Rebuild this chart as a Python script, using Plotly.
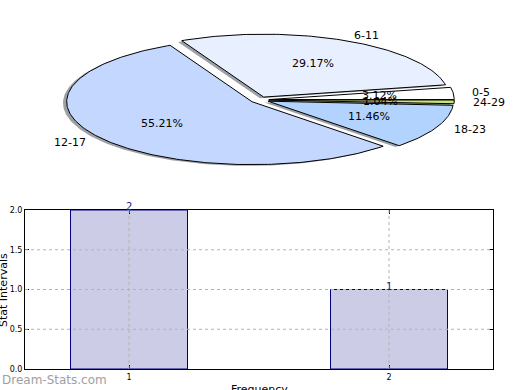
import numpy as np
import plotly.graph_objects as go

# ---------------- data ----------------
age_groups = ["0-5", "6-11", "12-17", "18-23", "24-29"]
age_shares = [3.12, 29.17, 55.21, 11.46, 1.04]

bar_categories = [1, 2]
bar_values = [2, 1]
y_tick_values = [0.0, 0.5, 1.0, 1.5, 2.0]
x_tick_values = [1, 2]

# ---------------- styles ----------------
pie_colors = ["#ffffff", "#e8f0ff", "#c4d8ff", "#b3d3ff", "#c8e678"]
pie_explode = [0.05, 0.05, 0.05, 0.05, 0.05]
FONT = "DejaVu Sans"
W, H = 520, 390

# pie geometry (pixel scale of unit radius, centre in px)
pie_cx, pie_cy = 259.6, 99.9
pie_rx, pie_ry = 185.4, 62.9
pie_h = 195.0

fig = go.Figure()

# ---------------- pie (elliptical, exploded, with shadow) ----------------
total = float(sum(age_shares))
wedges = []
start = 0.0
for i, v in enumerate(age_shares):
    t0 = start
    t1 = start + v / total * 360.0
    start = t1
    mid = np.radians((t0 + t1) / 2)
    ox = pie_explode[i] * np.cos(mid)
    oy = pie_explode[i] * np.sin(mid)
    th = np.radians(np.linspace(t0, t1, max(int(v * 4), 12)))
    xs = np.concatenate([[ox], ox + np.cos(th), [ox]])
    ys = np.concatenate([[oy], oy + np.sin(th), [oy]])
    wedges.append((xs, ys, ox, oy, mid, v))

for xs, ys, *_ in wedges:
    fig.add_trace(go.Scatter(x=xs - 0.02, y=ys - 0.02, xaxis="x2", yaxis="y2",
                             mode="lines", fill="toself",
                             fillcolor="rgba(60,65,75,0.5)", line=dict(width=0),
                             hoverinfo="skip", showlegend=False))
for i, (xs, ys, *_r) in enumerate(wedges):
    fig.add_trace(go.Scatter(x=xs, y=ys, xaxis="x2", yaxis="y2",
                             mode="lines", fill="toself",
                             fillcolor=pie_colors[i], line=dict(color="black", width=1),
                             hoverinfo="skip", showlegend=False))

annotations = []
for i, (xs, ys, ox, oy, mid, v) in enumerate(wedges):
    lx = ox + 1.1 * np.cos(mid)
    ly = oy + 1.1 * np.sin(mid)
    right_side = lx > 0
    annotations.append(dict(x=lx, y=ly, xref="x2", yref="y2", text=age_groups[i],
                            showarrow=False, xanchor="left" if right_side else "right",
                            xshift=-2 if right_side else 2,
                            yanchor="middle", font=dict(family=FONT, size=11, color="black")))
    px = ox + 0.6 * np.cos(mid)
    py = oy + 0.6 * np.sin(mid)
    annotations.append(dict(x=px, y=py, xref="x2", yref="y2",
                            text=f"{v / total * 100:.2f}%",
                            showarrow=False, xanchor="center", yanchor="middle",
                            font=dict(family=FONT, size=11, color="black")))

# ---------------- bar chart ----------------
fig.add_trace(go.Bar(x=bar_categories, y=bar_values, width=0.45,
                     marker=dict(color="#ccccE6", line=dict(color="#000080", width=1)),
                     hoverinfo="skip", showlegend=False))
for xv, yv in zip(bar_categories, bar_values):
    annotations.append(dict(x=xv, y=yv, xref="x", yref="y", text=str(yv),
                            showarrow=False, xanchor="center", yanchor="bottom", yshift=-4,
                            font=dict(family=FONT, size=10, color="#1a1a8c")))

shapes = []
for yv in y_tick_values[1:-1]:
    shapes.append(dict(type="line", xref="x domain", yref="y", x0=0, x1=1, y0=yv, y1=yv,
                       line=dict(color="#b4b4b4", width=1, dash="dot"), layer="above"))
for xv in x_tick_values:
    shapes.append(dict(type="line", xref="x", yref="y domain", x0=xv, x1=xv, y0=0, y1=1,
                       line=dict(color="#b4b4b4", width=1, dash="dot"), layer="above"))

annotations.append(dict(x=3.0 / W, y=(H - 290) / H, xref="paper", yref="paper",
                        text="Stat Intervals", textangle=-90, showarrow=False,
                        xanchor="center", yanchor="middle",
                        font=dict(family=FONT, size=11, color="black")))
annotations.append(dict(x=259 / W, y=9 / H, xref="paper", yref="paper",
                        text="Frequency", showarrow=False, xanchor="center", yanchor="top",
                        font=dict(family=FONT, size=11, color="black")))
annotations.append(dict(x=0, y=(H - 380) / H, xref="paper", yref="paper",
                        text="Dream-Stats.com", showarrow=False, xanchor="left", yanchor="middle",
                        font=dict(family=FONT, size=12, color="#a0a0a0")))

axis_common = dict(showline=True, linecolor="black", linewidth=1, mirror="allticks",
                   ticks="inside", ticklen=4, tickcolor="black", showgrid=False,
                   zeroline=False, tickfont=dict(family=FONT, size=8, color="black"),
                   fixedrange=True, automargin=False)

fig.update_layout(
    width=W, height=H, margin=dict(l=0, r=0, t=0, b=0, pad=0, autoexpand=False),
    paper_bgcolor="white", plot_bgcolor="white",
    xaxis=dict(domain=[25 / W, 493 / W], range=[0.6, 2.4], tickvals=x_tick_values,
               ticktext=[str(v) for v in x_tick_values], anchor="y", **axis_common),
    yaxis=dict(domain=[(H - 369) / H, (H - 210) / H], range=[0, 2], tickvals=y_tick_values,
               ticktext=[f"{v:.1f}" for v in y_tick_values], anchor="x", **axis_common),
    xaxis2=dict(domain=[0, 1], range=[-pie_cx / pie_rx, (W - pie_cx) / pie_rx],
                visible=False, fixedrange=True, anchor="y2"),
    yaxis2=dict(domain=[(H - pie_h) / H, 1],
                range=[-(pie_h - pie_cy) / pie_ry, pie_cy / pie_ry],
                visible=False, fixedrange=True, anchor="x2"),
    annotations=annotations, shapes=shapes,
    font=dict(family=FONT), showlegend=False,
)

fig.write_html("out.html",
               config={"displayModeBar": False},
               post_script="document.body.style.margin='0';document.body.style.overflow='hidden';")
